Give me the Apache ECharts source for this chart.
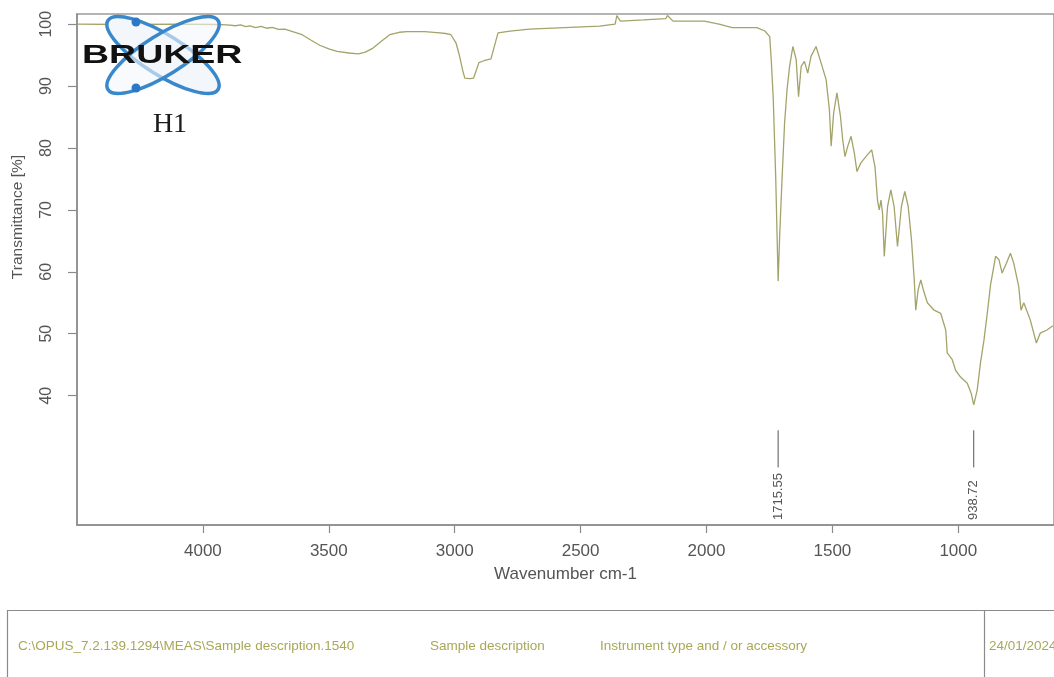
<!DOCTYPE html>
<html>
<head>
<meta charset="utf-8">
<script src="https://cdn.jsdelivr.net/npm/echarts@6/dist/echarts.min.js"></script>
<style>
  html, body { margin: 0; padding: 0; background: #ffffff; }
  #chart { width: 1054px; height: 677px; }
</style>
</head>
<body>
<div id="chart"></div>
<script>
// ---- data ----
const wavenumbers = [4499, 4300, 4100, 3950, 3905, 3870, 3850, 3830, 3814, 3790, 3770, 3747, 3725, 3700, 3675, 3650, 3606, 3570, 3536, 3500, 3467, 3420, 3383, 3355, 3328, 3290, 3258, 3220, 3189, 3120, 3070, 3036, 3015, 2995, 2981, 2968, 2960, 2940, 2925, 2912, 2904, 2884, 2856, 2842, 2828, 2780, 2703, 2564, 2425, 2363, 2356, 2342, 2250, 2162, 2155, 2133, 2009, 1950, 1898, 1800, 1768, 1749, 1743, 1735, 1725, 1720, 1715.55, 1709, 1700, 1690, 1680, 1670, 1657, 1644, 1634.5, 1624, 1611, 1598, 1585, 1565, 1545, 1525, 1512, 1505, 1495, 1482, 1468, 1459, 1450, 1439, 1426, 1413, 1402.5, 1387, 1367, 1344, 1331, 1321, 1314, 1307, 1301, 1294, 1281, 1268, 1255, 1241.5, 1226, 1212.5, 1199, 1186, 1175, 1169, 1159.5, 1149, 1139, 1123, 1096, 1070, 1050, 1044, 1024, 1011, 991, 964.5, 949, 938.72, 925, 912, 898, 885, 872, 852, 839, 826, 809, 793, 780, 760, 751, 740, 714, 690, 674.5, 648, 624];
const transmittance = [100.0, 99.95, 100.0, 99.95, 99.9, 99.75, 99.9, 99.6, 99.75, 99.45, 99.65, 99.35, 99.5, 99.15, 99.2, 98.9, 98.3, 97.4, 96.6, 96.0, 95.6, 95.35, 95.2, 95.5, 96.05, 97.3, 98.3, 98.7, 98.8, 98.8, 98.65, 98.5, 98.3, 97.0, 94.9, 92.5, 91.3, 91.2, 91.3, 92.8, 93.8, 94.1, 94.4, 96.5, 98.6, 98.9, 99.2, 99.45, 99.7, 100.0, 101.4, 100.5, 100.7, 100.9, 101.4, 100.5, 100.5, 100.0, 99.45, 99.45, 98.9, 98.0, 94.3, 88.0, 75.0, 66.3, 58.5, 66.3, 75.0, 84.0, 89.5, 93.2, 96.4, 94.3, 88.3, 93.2, 94.0, 92.1, 94.8, 96.4, 93.75, 91.05, 86.2, 80.3, 85.7, 88.9, 85.1, 81.3, 78.6, 80.3, 81.9, 79.2, 76.2, 77.6, 78.6, 79.7, 77.0, 71.6, 70.0, 71.6, 69.5, 62.5, 70.55, 73.25, 70.55, 64.1, 70.55, 73.0, 70.55, 65.2, 58.7, 53.8, 57.1, 58.7, 57.1, 55.0, 53.8, 53.3, 50.6, 46.9, 45.8, 44.1, 43.0, 42.0, 40.4, 38.5, 40.9, 45.3, 49.0, 53.3, 57.9, 62.5, 62.0, 59.8, 61.4, 63.0, 61.4, 57.6, 53.8, 55.0, 52.2, 48.5, 50.1, 50.6, 51.3];
const xTickValues = [4000, 3500, 3000, 2500, 2000, 1500, 1000];
const yTickValues = [40, 50, 60, 70, 80, 90, 100];
const peakWavenumbers = [1715.55, 938.72];
const peakLabels = ['1715.55', '938.72'];
const footerTexts = ['C:\\OPUS_7.2.139.1294\\MEAS\\Sample description.1540', 'Sample description', 'Instrument type and / or accessory', '24/01/2024'];

// ---- build ----
const spectrum = wavenumbers.map((w, i) => [w, transmittance[i]]);
const peaks = peakWavenumbers.map((w, i) => [w, peakLabels[i]]);

const chart = echarts.init(document.getElementById('chart'), null, { renderer: 'canvas' });
const axisGrey = '#8a8a8a';
const labelGrey = '#555555';
const lineColor = '#a3a36a';
const footColor = '#a9a857';

chart.setOption({
  animation: false,
  backgroundColor: '#ffffff',
  grid: {
    left: 77, top: 14, right: -3, bottom: 152,
    show: true, borderColor: '#9a9a9a', borderWidth: 1.5, backgroundColor: 'transparent'
  },
  xAxis: {
    type: 'value', inverse: true, min: 620, max: 4500,
    name: 'Wavenumber cm-1', nameLocation: 'middle', nameGap: 41,
    nameTextStyle: { fontFamily: 'Liberation Sans', fontSize: 17, color: labelGrey },
    axisLine: { show: true, onZero: false, lineStyle: { color: axisGrey, width: 1.5 } },
    axisTick: { show: true, length: 8, customValues: xTickValues, lineStyle: { color: axisGrey, width: 1.2 } },
    axisLabel: { customValues: xTickValues, margin: 18, fontFamily: 'Liberation Sans', fontSize: 17, color: labelGrey,
                 formatter: function (v) { return String(v); } },
    splitLine: { show: false }
  },
  yAxis: {
    type: 'value', min: 19.1, max: 101.65,
    axisLine: { show: true, onZero: false, lineStyle: { color: axisGrey, width: 1.5 } },
    axisTick: { show: true, length: 9, customValues: yTickValues, lineStyle: { color: axisGrey, width: 1.2 } },
    axisLabel: { customValues: yTickValues, rotate: 90, margin: 22, fontFamily: 'Liberation Sans', fontSize: 16, color: labelGrey,
                 formatter: function (v) { return String(v); } },
    splitLine: { show: false }
  },
  series: [
    {
      type: 'line', data: spectrum, showSymbol: false, smooth: false,
      lineStyle: { color: lineColor, width: 1.3 }, z: 2
    },
    {
      type: 'custom', data: peaks, z: 3,
      renderItem: function (params, api) {
        const w = api.value(0);
        const top = api.coord([w, 34.4]);
        const bot = api.coord([w, 28.4]);
        const base = api.coord([w, 19.9]);
        return {
          type: 'group',
          children: [
            { type: 'line', shape: { x1: top[0], y1: top[1], x2: bot[0], y2: bot[1] },
              style: { stroke: '#555555', lineWidth: 1 } },
            { type: 'text', x: base[0], y: base[1], rotation: Math.PI / 2,
              style: { text: peakLabels[params.dataIndex], fontFamily: 'Liberation Sans', fontSize: 13,
                       fill: '#555555', align: 'left', verticalAlign: 'middle' } }
          ]
        };
      }
    }
  ],
  graphic: [
    // y axis title
    { type: 'text', x: 18, y: 217, rotation: Math.PI / 2, z: 10,
      style: { text: 'Transmittance [%]', fontFamily: 'Liberation Sans', fontSize: 15.5, fill: labelGrey,
               align: 'center', verticalAlign: 'middle' } },
    // Bruker logo
    { type: 'ellipse', x: 163, y: 55, rotation: -0.56, z: 20,
      shape: { cx: 0, cy: 0, rx: 65, ry: 20 },
      style: { fill: '#f3f7fb', stroke: '#3a88cc', lineWidth: 3.5 } },
    { type: 'ellipse', x: 163, y: 55, rotation: 0.56, z: 21,
      shape: { cx: 0, cy: 0, rx: 65, ry: 20 },
      style: { fill: 'rgba(243,247,251,0.6)', stroke: '#3a88cc', lineWidth: 3.5 } },
    { type: 'circle', x: 136, y: 22, z: 22, shape: { cx: 0, cy: 0, r: 4.5 }, style: { fill: '#2b78c6' } },
    { type: 'circle', x: 136, y: 88, z: 22, shape: { cx: 0, cy: 0, r: 4.5 }, style: { fill: '#2b78c6' } },
    { type: 'text', x: 82, y: 56, scaleX: 1.5, z: 23,
      style: { text: 'BRUKER', fontFamily: 'Liberation Sans', fontWeight: 'bold', fontSize: 25, fill: '#111111',
               align: 'left', verticalAlign: 'middle' } },
    { type: 'text', x: 170, y: 125, z: 23,
      style: { text: 'H1', fontFamily: 'Liberation Serif', fontSize: 28, fill: '#1a1a1a',
               align: 'center', verticalAlign: 'middle' } },
    // footer box
    { type: 'rect', z: 5, shape: { x: 7.5, y: 610.5, width: 1060, height: 100 },
      style: { fill: 'none', stroke: '#8a8a8a', lineWidth: 1.2 } },
    { type: 'line', z: 5, shape: { x1: 984.5, y1: 610.5, x2: 984.5, y2: 677 },
      style: { stroke: '#8a8a8a', lineWidth: 1.2 } },
    { type: 'text', x: 18, y: 646, z: 6,
      style: { text: footerTexts[0], fontFamily: 'Liberation Sans', fontSize: 13.5, fill: footColor, align: 'left', verticalAlign: 'middle' } },
    { type: 'text', x: 430, y: 646, z: 6,
      style: { text: footerTexts[1], fontFamily: 'Liberation Sans', fontSize: 13.5, fill: footColor, align: 'left', verticalAlign: 'middle' } },
    { type: 'text', x: 600, y: 646, z: 6,
      style: { text: footerTexts[2], fontFamily: 'Liberation Sans', fontSize: 13.5, fill: footColor, align: 'left', verticalAlign: 'middle' } },
    { type: 'text', x: 989, y: 646, z: 6,
      style: { text: footerTexts[3], fontFamily: 'Liberation Sans', fontSize: 13.5, fill: footColor, align: 'left', verticalAlign: 'middle' } }
  ]
});
</script>
</body>
</html>
